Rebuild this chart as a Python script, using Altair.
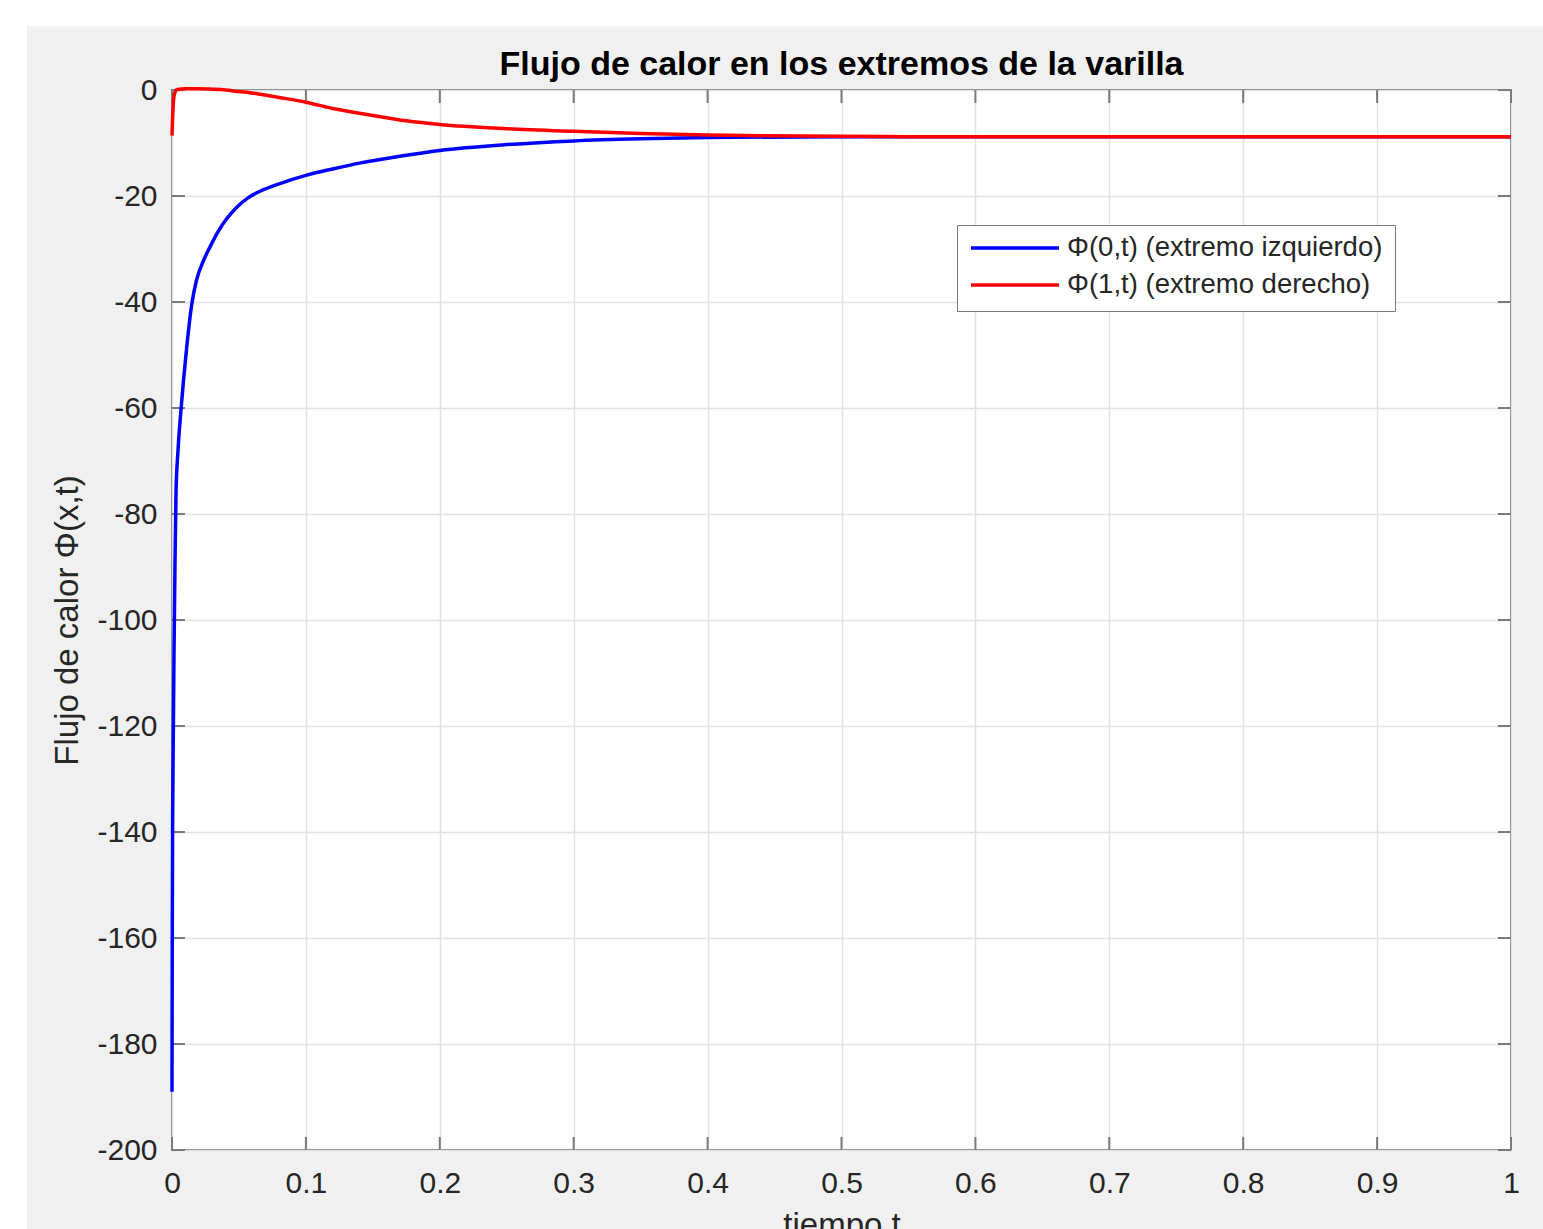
import altair as alt
import pandas as pd

# ---------------- data ----------------
t_left = [0, 0.0002, 0.0005, 0.001, 0.0015, 0.0022, 0.003, 0.0045, 0.0065, 0.0085,
          0.011, 0.0147, 0.0184, 0.023, 0.0284, 0.034, 0.0408, 0.048, 0.057, 0.0657,
          0.08, 0.1, 0.12, 0.14, 0.17, 0.2, 0.25, 0.3, 0.35, 0.4, 0.47, 0.55, 0.7, 1.0]
phi_left = [-189, -160, -137, -121, -106, -90, -76, -68, -61, -55,
            -48.5, -40.5, -35.8, -32.5, -29.6, -26.9, -24.3, -22.2, -20.3, -19.1,
            -17.7, -16.1, -14.9, -13.8, -12.5, -11.4, -10.3, -9.6, -9.2, -8.95, -8.85,
            -8.8, -8.8, -8.8]

t_right = [0, 0.0005, 0.001, 0.002, 0.004, 0.01, 0.02, 0.03, 0.04, 0.05, 0.058, 0.066,
           0.08, 0.1, 0.12, 0.15, 0.175, 0.2, 0.25, 0.3, 0.35, 0.4, 0.47, 0.55, 0.7, 1.0]
phi_right = [-8.6, -5, -2.5, -0.6, 0.1, 0.25, 0.25, 0.15, 0.0, -0.3, -0.5, -0.8,
             -1.4, -2.3, -3.5, -4.8, -5.8, -6.5, -7.3, -7.8, -8.2, -8.5, -8.7, -8.8, -8.8, -8.8]

series_names = ["Φ(0,t) (extremo izquierdo)", "Φ(1,t) (extremo derecho)"]
series_colors = ["#0000ff", "#ff0000"]

x_ticks = [0, 0.1, 0.2, 0.3, 0.4, 0.5, 0.6, 0.7, 0.8, 0.9, 1]
y_ticks = [-200, -180, -160, -140, -120, -100, -80, -60, -40, -20, 0]

# ---------------- styling ----------------
FONT = "Liberation Sans"
BOX = "#7a7a7a"
TXT = "#262626"
W, H = 1339, 1060
PAD = {"left": 172, "top": 90, "right": 32, "bottom": 79}
TICK = 13
X_TITLE = "tiempo t"
Y_TITLE = "Flujo de calor Φ(x,t)"

df_left = pd.DataFrame({"t": t_left, "phi": phi_left, "serie": series_names[0]})
df_right = pd.DataFrame({"t": t_right, "phi": phi_right, "serie": series_names[1]})
xt = pd.DataFrame({"t": x_ticks})
yt = pd.DataFrame({"phi": y_ticks})
one = pd.DataFrame({"k": [0]})

x_scale = alt.Scale(domain=[0, 1], nice=False, zero=False)
y_scale = alt.Scale(domain=[-200, 0], nice=False, zero=False)

x_axis = alt.Axis(values=x_ticks, labelExpr="'' + datum.value", grid=True,
                  gridColor="#e2e2e2", gridWidth=1.5, ticks=False, tickSize=0,
                  domain=False, labelFont=FONT, labelFontSize=30, labelColor=TXT,
                  labelPadding=18, labelFlush=False, labelOverlap=False,
                  titleFont=FONT, titleFontSize=33, titleFontWeight="normal",
                  titleColor=TXT, titleX=W / 2, titleY=85, titleBaseline="alphabetic",
                  titleAlign="center")
y_axis = alt.Axis(values=y_ticks, labelExpr="'' + datum.value", grid=True,
                  gridColor="#e2e2e2", gridWidth=1.5, ticks=False, tickSize=0,
                  domain=False, labelFont=FONT, labelFontSize=30, labelColor=TXT,
                  labelPadding=15, labelFlush=False, labelOverlap=False,
                  titleFont=FONT, titleFontSize=33, titleFontWeight="normal",
                  titleColor=TXT, titleX=-105, titleY=H / 2, titleAngle=270,
                  titleBaseline="middle", titleAlign="center")

X = alt.X("t:Q", scale=x_scale, axis=x_axis, title=X_TITLE)
Y = alt.Y("phi:Q", scale=y_scale, axis=y_axis, title=Y_TITLE)

legend = alt.Legend(title=None, orient="none", legendX=785, legendY=135,
                    direction="vertical", symbolType="stroke", symbolSize=7744,
                    symbolStrokeWidth=3.5, clipHeight=22, rowPadding=9, padding=12,
                    labelFont=FONT, labelFontSize=27.5, labelColor=TXT, labelOffset=6,
                    labelLimit=0, fillColor="white", strokeColor=BOX)

color = alt.Color("serie:N", scale=alt.Scale(domain=series_names, range=series_colors),
                  legend=legend)

# white margin strips (outside the grey figure)
strip_top = alt.Chart(one).mark_rect(color="white").encode(
    x=alt.value(-PAD["left"]), x2=alt.value(W + PAD["right"]),
    y=alt.value(-PAD["top"]), y2=alt.value(-64))
strip_left = alt.Chart(one).mark_rect(color="white").encode(
    x=alt.value(-PAD["left"]), x2=alt.value(-145),
    y=alt.value(-PAD["top"]), y2=alt.value(H + PAD["bottom"]))

# inward ticks on all four sides
tick_b = alt.Chart(xt).mark_rule(color=BOX, strokeWidth=2).encode(
    x=X, y=alt.value(H - TICK), y2=alt.value(H))
tick_t = alt.Chart(xt).mark_rule(color=BOX, strokeWidth=2).encode(
    x=X, y=alt.value(0), y2=alt.value(TICK))
tick_l = alt.Chart(yt).mark_rule(color=BOX, strokeWidth=2).encode(
    y=Y, x=alt.value(0), x2=alt.value(TICK))
tick_r = alt.Chart(yt).mark_rule(color=BOX, strokeWidth=2).encode(
    y=Y, x=alt.value(W - TICK), x2=alt.value(W))


def line(df):
    return alt.Chart(df).mark_line(strokeWidth=3.5, interpolate="monotone").encode(
        x=X, y=Y, color=color)


chart = alt.layer(strip_top, strip_left, tick_b, tick_t, tick_l, tick_r,
                  line(df_left), line(df_right)).properties(
    width=W, height=H, padding=PAD,
    autosize=alt.AutoSizeParams(type="none"),
    background="#f0f0f0",
    title=alt.TitleParams("Flujo de calor en los extremos de la varilla",
                          font=FONT, fontSize=34, fontWeight="bold", color="#000000",
                          anchor="middle", frame="group", offset=13, dy=122,
                          baseline="alphabetic"),
).configure_view(fill="white", stroke=BOX, strokeWidth=2)

chart.save("out.html", embed_options={"renderer": "svg", "actions": False})
